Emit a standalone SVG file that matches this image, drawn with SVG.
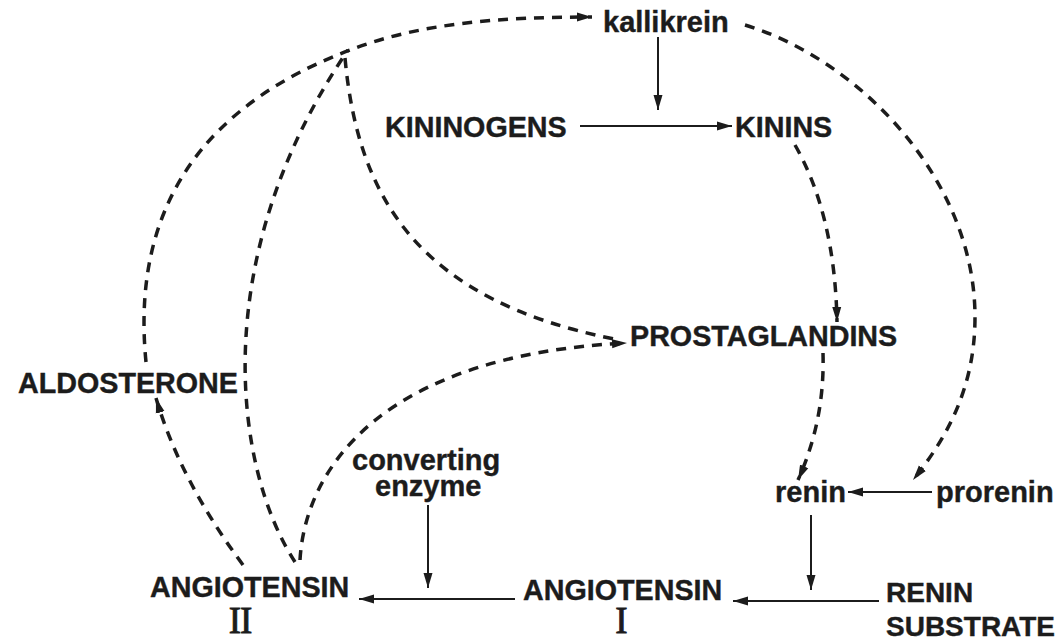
<svg xmlns="http://www.w3.org/2000/svg" width="1062" height="641" viewBox="0 0 1062 641">
<defs>
<style>
.t{font-family:"Liberation Sans","Arial",sans-serif;font-weight:bold;font-size:28.7px;fill:#1c1c1c;stroke:#1c1c1c;stroke-width:0.4}
.l{font-size:29px}
.m{font-size:28px}
.r{font-family:"Liberation Serif","Times New Roman",serif;font-weight:normal;font-size:37px;fill:#1c1c1c;stroke:#1c1c1c;stroke-width:0.9;text-anchor:middle;letter-spacing:-1px}
.s{fill:none;stroke:#1c1c1c;stroke-width:2}
.d{fill:none;stroke:#1c1c1c;stroke-width:3.5;stroke-dasharray:10 8}
</style>
<marker id="a" markerUnits="userSpaceOnUse" markerWidth="18" markerHeight="12" refX="15" refY="5" orient="auto">
<path d="M0,0.5 L15,5 L0,9.5 Z" fill="#1c1c1c"/>
</marker>
</defs>
<rect width="1062" height="641" fill="#ffffff"/>
<g id="connectors">
<path class="s" d="M658,37 L658,110" marker-end="url(#a)"/>
<path class="s" d="M580,126 L732,126" marker-end="url(#a)"/>
<path class="s" d="M932,492 L848,492" marker-end="url(#a)"/>
<path class="s" d="M811,515 L811,590" marker-end="url(#a)"/>
<path class="s" d="M879,601 L733,601" marker-end="url(#a)"/>
<path class="s" d="M428,505 L428,588" marker-end="url(#a)"/>
<path class="s" d="M515,599 L359,599" marker-end="url(#a)"/>
<path class="d" d="M146,362 C135,250 165,120 350,50 C420,23 500,17 592,17" marker-end="url(#a)"/>
<path class="d" d="M295,562 C235,470 205,260 348,50"/>
<path class="d" d="M345,58 C358,200 420,300 614,339"/>
<path class="d" d="M300,560 C305,470 380,355 627,343" marker-end="url(#a)"/>
<path class="d" d="M243,565 Q180,480 156,398" marker-end="url(#a)"/>
<path class="d" d="M745,25 C860,60 975,180 975,317 C975,390 945,440 913,480" marker-end="url(#a)"/>
<path class="d" d="M795,145 Q835,215 837,322" marker-end="url(#a)"/>
<path class="d" d="M823,353 Q825,420 798,480" marker-end="url(#a)"/>
</g>
<g id="kallikrein"><text class="t l" x="603" y="32">kallikrein</text></g>
<g id="kininogens"><text class="t" x="385" y="137">KININOGENS</text></g>
<g id="kinins"><text class="t" x="735" y="137">KININS</text></g>
<g id="prostaglandins"><text class="t" x="630" y="346">PROSTAGLANDINS</text></g>
<g id="aldosterone"><text class="t" x="18" y="393">ALDOSTERONE</text></g>
<g id="angiotensin2"><text class="t" x="150" y="597">ANGIOTENSIN</text><text class="r" x="240" y="633">II</text></g>
<g id="angiotensin1"><text class="t" x="523" y="600">ANGIOTENSIN</text><text class="r" x="621" y="633">I</text></g>
<g id="converting-enzyme"><text class="t l" x="352" y="470">converting</text><text class="t l" x="375" y="496">enzyme</text></g>
<g id="renin"><text class="t l" x="775" y="502">renin</text></g>
<g id="prorenin"><text class="t l" x="936" y="502">prorenin</text></g>
<g id="renin-substrate"><text class="t m" x="886" y="602">RENIN</text><text class="t m" x="886" y="636">SUBSTRATE</text></g>
</svg>
